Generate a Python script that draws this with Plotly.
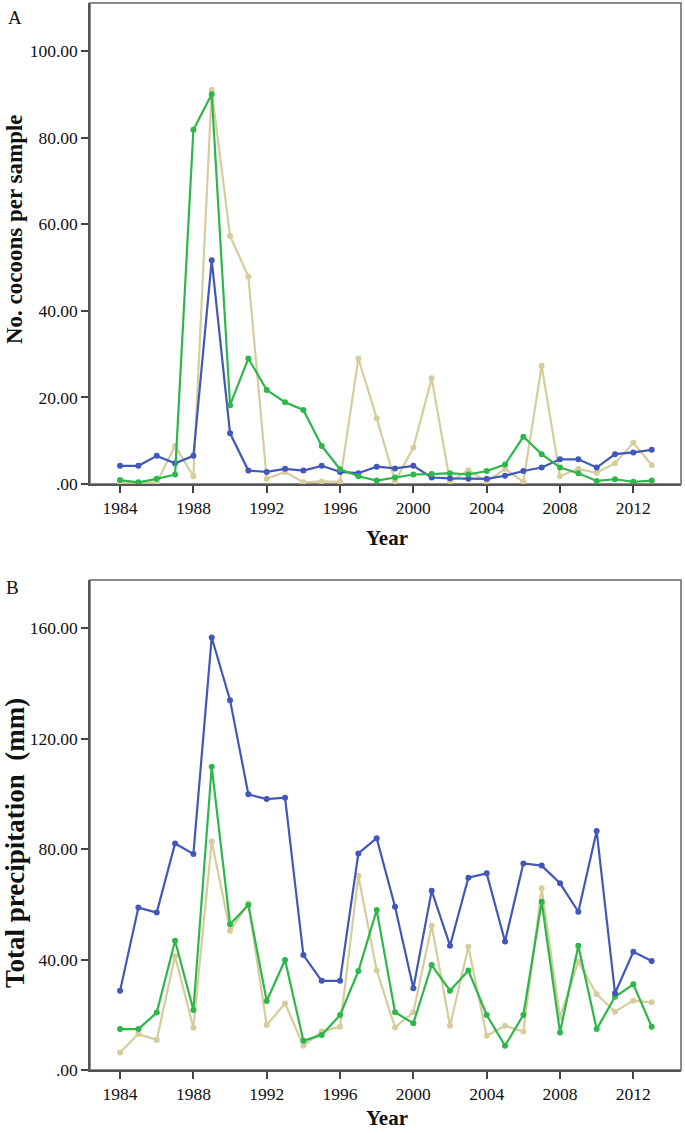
import plotly.graph_objects as go

years = list(range(1984, 2014))

# Panel A: No. cocoons per sample
cocoons_blue = [4.2, 4.2, 6.5, 4.8, 6.5, 51.7, 11.7, 3.1, 2.8, 3.5, 3.1, 4.2, 2.8, 2.5, 4.0,
                3.6, 4.2, 1.5, 1.3, 1.2, 1.2, 1.9, 3.0, 3.8, 5.7, 5.7, 3.8, 6.9, 7.3, 7.9]
cocoons_green = [0.9, 0.4, 1.2, 2.2, 81.8, 90.0, 18.2, 29.0, 21.7, 18.9, 17.1, 8.8, 3.4, 1.8, 0.8,
                 1.5, 2.2, 2.3, 2.5, 2.2, 3.0, 4.5, 10.9, 6.9, 3.8, 2.5, 0.7, 1.1, 0.5, 0.8]
cocoons_tan = [0.3, 0.3, 0.3, 8.8, 1.8, 91.0, 57.3, 47.9, 1.2, 2.8, 0.4, 0.6, 0.5, 29.0, 15.2,
               0.6, 8.4, 24.4, 0.5, 3.2, 0.5, 3.5, 0.5, 27.3, 1.8, 3.5, 2.6, 4.8, 9.5, 4.4]

# Panel B: Total precipitation (mm)
precip_blue = [28.7, 58.8, 57.0, 82.0, 78.2, 156.6, 133.9, 99.8, 98.1, 98.6, 41.6, 32.3, 32.3, 78.4, 83.9,
               59.1, 29.6, 64.9, 45.0, 69.6, 71.2, 46.5, 74.8, 74.0, 67.6, 57.3, 86.5, 27.8, 42.8, 39.5]
precip_green = [14.8, 14.8, 20.8, 46.8, 21.7, 109.8, 52.8, 59.7, 25.0, 39.8, 10.6, 12.7, 19.9, 35.8, 57.9,
                20.9, 16.9, 38.0, 28.7, 36.0, 19.9, 8.8, 19.9, 60.9, 13.6, 45.0, 14.8, 26.5, 31.0, 15.7]
precip_tan = [6.3, 13.0, 10.9, 41.3, 15.3, 82.7, 50.4, 60.3, 16.3, 24.1, 8.8, 13.9, 15.7, 70.3, 36.0,
              15.4, 20.9, 52.2, 16.0, 44.6, 12.4, 16.0, 13.9, 65.8, 19.1, 39.2, 27.4, 21.1, 25.1, 24.5]

x_ticks = [1984, 1988, 1992, 1996, 2000, 2004, 2008, 2012]
x_tick_text = ["1984", "1988", "1992", "1996", "2000", "2004", "2008", "2012"]
yA_ticks = [0, 20, 40, 60, 80, 100]
yA_tick_text = [".00", "20.00", "40.00", "60.00", "80.00", "100.00"]
yB_ticks = [0, 40, 80, 120, 160]
yB_tick_text = [".00", "40.00", "80.00", "120.00", "160.00"]

BLUE = "#4258b8"
GREEN = "#2db74a"
TAN = "#d6cd9c"
FONT = "Liberation Serif"

W, H = 685, 1133
fig = go.Figure()

def add_series(ys, color, xa, ya):
    fig.add_trace(go.Scatter(
        x=years, y=ys, mode="lines+markers", xaxis=xa, yaxis=ya,
        line=dict(color=color, width=2.2),
        marker=dict(color=color, size=6),
        showlegend=False, hoverinfo="x+y"))

add_series(cocoons_tan, TAN, "x", "y")
add_series(cocoons_blue, BLUE, "x", "y")
add_series(cocoons_green, GREEN, "x", "y")
add_series(precip_tan, TAN, "x2", "y2")
add_series(precip_green, GREEN, "x2", "y2")
add_series(precip_blue, BLUE, "x2", "y2")

xdom = [90 / W, 681 / W]
yA_dom = [1 - 484 / H, 1 - 3 / H]
yB_dom = [1 - 1070 / H, 1 - 580 / H]

axis_common = dict(showgrid=False, zeroline=False, showline=True, linecolor="#555555", linewidth=1.5,
                   ticks="outside", ticklen=7, tickwidth=1.5, tickcolor="#444444",
                   tickfont=dict(family=FONT, size=17.5, color="#111111"), automargin=False)

fig.update_layout(
    width=W, height=H, margin=dict(l=0, r=0, t=0, b=0),
    paper_bgcolor="white", plot_bgcolor="white",
    xaxis=dict(domain=xdom, anchor="y", range=[1982.36, 2014.6], tickvals=x_ticks, ticktext=x_tick_text, **axis_common),
    yaxis=dict(domain=yA_dom, anchor="x", range=[0, 111.1], tickvals=yA_ticks, ticktext=yA_tick_text, **axis_common),
    xaxis2=dict(domain=xdom, anchor="y2", range=[1982.36, 2014.6], tickvals=x_ticks, ticktext=x_tick_text, **axis_common),
    yaxis2=dict(domain=yB_dom, anchor="x2", range=[0, 177.4], tickvals=yB_ticks, ticktext=yB_tick_text, **axis_common),
)

for xr, yr in [("x domain", "y domain"), ("x2 domain", "y2 domain")]:
    fig.add_shape(type="rect", xref=xr, yref=yr, x0=0, x1=1, y0=0, y1=1,
                  line=dict(color="#8a8a8a", width=2), layer="below")

ann = [
    dict(text="A", x=6 / W, y=1 - 17 / H, xanchor="left", yanchor="middle",
         font=dict(family=FONT, size=19, color="#111111")),
    dict(text="B", x=4 / W, y=1 - 587 / H, xanchor="left", yanchor="middle",
         font=dict(family=FONT, size=19, color="#111111")),
    dict(text="<b>Year</b>", x=387 / W, y=1 - 538 / H, xanchor="center", yanchor="middle",
         font=dict(family=FONT, size=21, color="#111111")),
    dict(text="<b>Year</b>", x=387 / W, y=1 - 1118 / H, xanchor="center", yanchor="middle",
         font=dict(family=FONT, size=21, color="#111111")),
    dict(text="<b>No. cocoons per sample</b>", x=14 / W, y=1 - 229 / H, xanchor="center", yanchor="middle",
         textangle=-90, font=dict(family=FONT, size=23, color="#111111")),
    dict(text="<b>Total precipitation\u00a0\u00a0(mm)</b>", x=15 / W, y=1 - 843 / H, xanchor="center",
         yanchor="middle", textangle=-90, font=dict(family=FONT, size=27, color="#111111")),
]
for a in ann:
    fig.add_annotation(xref="paper", yref="paper", showarrow=False, **a)

fig.write_html("out.html", config={"displayModeBar": False},
               post_script="document.body.style.margin='0';document.body.style.overflow='hidden';")
